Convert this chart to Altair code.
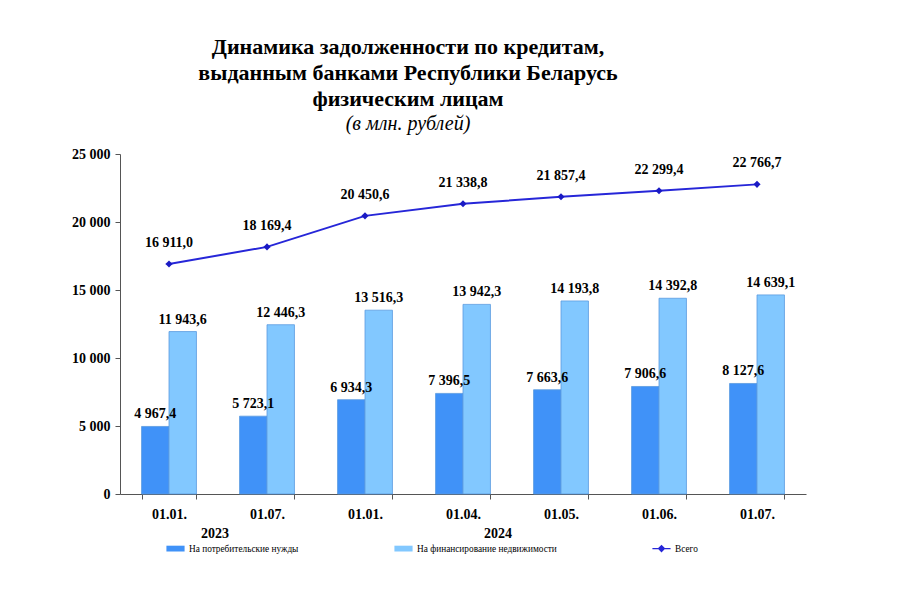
import altair as alt
import pandas as pd

keys = ["2023-01.01.", "2023-01.07.", "2024-01.01.", "2024-01.04.", "2024-01.05.", "2024-01.06.", "2024-01.07."]
consumer = [4967.4, 5723.1, 6934.3, 7396.5, 7663.6, 7906.6, 8127.6]
realty = [11943.6, 12446.3, 13516.3, 13942.3, 14193.8, 14392.8, 14639.1]
total = [16911.0, 18169.4, 20450.6, 21338.8, 21857.4, 22299.4, 22766.7]
series_names = ["На потребительские нужды", "На финансирование недвижимости", "Всего"]
years = ["2023", "2024"]
year_anchor = ["2023-01.07.", "2024-01.04."]
year_dx = [-52, 35]
y_ticks = [0, 5000, 10000, 15000, 20000, 25000]

def fmt(v):
    return f"{v:,.1f}".replace(",", " ").replace(".", ",")

bars = pd.DataFrame(
    [{"key": k, "series": series_names[0], "v": v, "lbl": fmt(v)} for k, v in zip(keys, consumer)]
    + [{"key": k, "series": series_names[1], "v": v, "lbl": fmt(v)} for k, v in zip(keys, realty)]
)
line = pd.DataFrame([{"key": k, "series": series_names[2], "v": v, "lbl": fmt(v)} for k, v in zip(keys, total)])

W, H = 686, 340
FONT = "'Liberation Serif', 'Times New Roman', Tinos, serif"

xenc = alt.X(
    "key:N",
    sort=keys,
    scale=alt.Scale(paddingInner=0.44, paddingOuter=0.22),
    axis=alt.Axis(
        title=None,
        labelExpr="split(datum.value, '-')[1]",
        labelFont=FONT, labelFontWeight="bold", labelFontSize=14, labelColor="#000",
        labelPadding=8, tickBand="extent", tickSize=5, tickColor="#555",
        domainColor="#555", labelAngle=0,
    ),
)
yscale = alt.Scale(domain=[0, 25000], nice=False)
yenc = alt.Y(
    "v:Q",
    scale=yscale,
    axis=alt.Axis(
        title=None, values=y_ticks, grid=False,
        labelExpr="replace(format(datum.value, ','), ',', ' ')",
        labelFont=FONT, labelFontWeight="bold", labelFontSize=14, labelColor="#000",
        tickSize=5, tickColor="#555", domainColor="#555", labelPadding=5,
        minExtent=60, maxExtent=60,
    ),
)

color_scale = alt.Scale(domain=series_names, range=["#4092F8", "#82C8FF", "#2626D8"])
shape_scale = alt.Scale(
    domain=series_names,
    range=[
        "M-1,-0.32L1,-0.32L1,0.32L-1,0.32Z",
        "M-1,-0.32L1,-0.32L1,0.32L-1,0.32Z",
        "M-1,-0.07L1,-0.07L1,0.07L-1,0.07Z M0,-0.42L0.42,0L0,0.42L-0.42,0Z",
    ],
)
legend = alt.Legend(
    title=None, orient="none", legendX=46, legendY=385, direction="horizontal",
    columns=3, columnPadding=95, symbolSize=330, symbolStrokeWidth=0,
    labelFont=FONT, labelFontSize=9.3, labelColor="#000", labelLimit=300, padding=0,
)

bar_layer = alt.Chart(bars).mark_bar(strokeWidth=0.8, stroke="#5a9ae0").encode(
    x=xenc,
    xOffset=alt.XOffset("series:N", sort=series_names[:2], scale=alt.Scale(paddingInner=0, paddingOuter=0)),
    y=yenc,
    color=alt.Color("series:N", scale=color_scale, legend=legend),
)
bar_text = alt.Chart(bars).mark_text(
    font=FONT, fontWeight="bold", fontSize=14, color="#000", dy=-12, baseline="middle"
).encode(
    x=alt.X("key:N", sort=keys),
    xOffset=alt.XOffset("series:N", sort=series_names[:2]),
    y=alt.Y("v:Q", scale=yscale),
    text="lbl:N",
)
line_layer = alt.Chart(line).mark_line(color="#2626D8", strokeWidth=2).encode(
    x=alt.X("key:N", sort=keys), y=alt.Y("v:Q", scale=yscale)
)
legend_layer = alt.Chart(line).mark_point(filled=True, opacity=1, size=45).encode(
    x=alt.X("key:N", sort=keys),
    y=alt.Y("v:Q", scale=yscale),
    color=alt.Color("series:N", scale=color_scale, legend=legend),
    shape=alt.Shape("series:N", scale=shape_scale, legend=legend),
)
marker_layer = alt.Chart(line).mark_point(
    filled=True, opacity=1, size=50, shape="diamond", color="#1a1ac4"
).encode(x=alt.X("key:N", sort=keys), y=alt.Y("v:Q", scale=yscale))
line_text = alt.Chart(line).mark_text(
    font=FONT, fontWeight="bold", fontSize=14, color="#000", dy=-21, baseline="middle"
).encode(x=alt.X("key:N", sort=keys), y=alt.Y("v:Q", scale=yscale), text="lbl:N")

year_layers = []
for yr, anc, dx in zip(years, year_anchor, year_dx):
    year_layers.append(
        alt.Chart(pd.DataFrame({"key": [anc], "year": [yr]})).mark_text(
            font=FONT, fontWeight="bold", fontSize=14, color="#000", baseline="middle", dx=dx
        ).encode(x=alt.X("key:N", sort=keys), y=alt.value(H + 40), text="year:N")
    )

chart = (
    alt.layer(bar_layer, bar_text, line_layer, legend_layer, marker_layer, line_text, *year_layers)
    .resolve_scale(color="shared", shape="shared")
    .properties(
        width=W,
        height=H,
        padding={"left": 52, "top": 28, "right": 5, "bottom": 5},
        title=alt.TitleParams(
            text=["Динамика задолженности по кредитам,", "выданным банками Республики Беларусь", "физическим лицам"],
            subtitle="(в млн. рублей)",
            font=FONT, fontSize=22, fontWeight="bold", lineHeight=26, color="#000",
            subtitleFont=FONT, subtitleFontSize=20, subtitleFontStyle="italic", subtitleColor="#000",
            subtitlePadding=3, anchor="middle", dx=-55, offset=12,
        ),
    )
    .configure_view(stroke=None)
)
chart.save("out.html", embed_options={"renderer": "svg", "actions": False})
